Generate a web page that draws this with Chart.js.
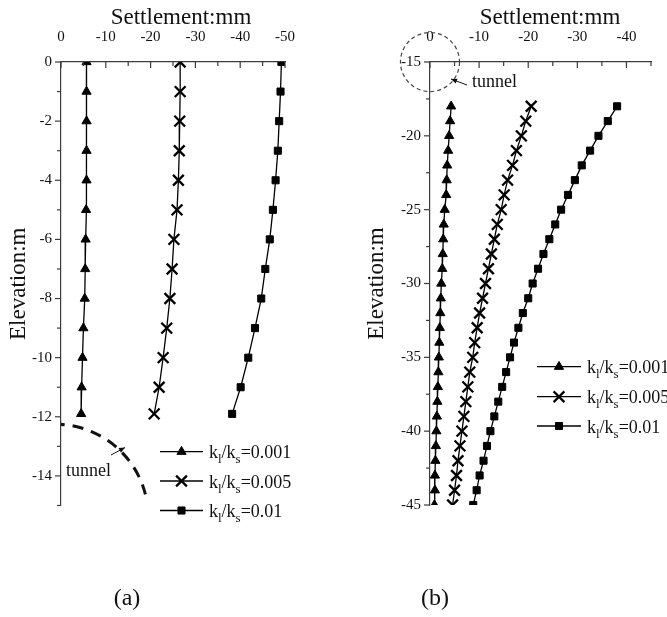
<!DOCTYPE html>
<html>
<head>
<meta charset="utf-8">
<title>Settlement profiles</title>
<script src="https://cdn.jsdelivr.net/npm/chart.js@4/dist/chart.umd.min.js"></script>
<style>
  html, body { margin: 0; padding: 0; background: #fff; }
  #wrap { position: relative; width: 667px; height: 617px; overflow: hidden; }
  canvas { position: absolute; top: 0; }
  #panelA { left: 0; }
  #panelB { left: 333px; }
</style>
</head>
<body>
<div id="wrap">
  <canvas id="panelA" width="333" height="617"></canvas>
  <canvas id="panelB" width="334" height="617"></canvas>
</div>
<script>
// ---------- data ----------
// ratio labels for the three stiffness cases
const ratioLabels = ['0.001', '0.005', '0.01'];

// (a) elevation (m) and settlement (mm)
const elevA = [0, -1, -2, -3, -4, -5, -6, -7, -8, -9, -10, -11, -11.9];
const settleA_001 = [-5.7, -5.7, -5.7, -5.7, -5.7, -5.6, -5.5, -5.4, -5.3, -5.0, -4.8, -4.6, -4.5];
const settleA_005 = [-26.6, -26.6, -26.5, -26.4, -26.2, -25.9, -25.2, -24.8, -24.3, -23.6, -22.8, -21.9, -20.8];
const settleA_01  = [-49.2, -49.0, -48.7, -48.4, -47.9, -47.3, -46.6, -45.6, -44.7, -43.3, -41.8, -40.1, -38.2];

// (b) elevation (m) and settlement (mm)
const elevB = [-18, -19, -20, -21, -22, -23, -24, -25, -26, -27, -28, -29, -30, -31,
               -32, -33, -34, -35, -36, -37, -38, -39, -40, -41, -42, -43, -44, -45];
const settleB_001 = [-4.3, -4.1, -3.9, -3.7, -3.5, -3.4, -3.3, -3.0, -2.8, -2.7, -2.6, -2.5, -2.3, -2.2,
                     -2.1, -2.0, -1.9, -1.8, -1.7, -1.6, -1.5, -1.4, -1.3, -1.2, -1.1, -1.0, -1.0, -0.9];
const settleB_005 = [-20.6, -19.5, -18.6, -17.6, -16.8, -15.8, -15.1, -14.5, -13.7, -13.1, -12.5, -11.9, -11.3, -10.7,
                     -10.1, -9.6, -9.1, -8.7, -8.1, -7.7, -7.3, -6.9, -6.5, -6.1, -5.7, -5.4, -5.0, -4.6];
const settleB_01  = [-38.1, -36.2, -34.3, -32.6, -30.9, -29.5, -28.1, -26.7, -25.5, -24.3, -23.1, -22.0, -20.9, -20.0,
                     -18.9, -18.0, -17.1, -16.3, -15.5, -14.7, -13.9, -13.1, -12.3, -11.6, -10.9, -10.1, -9.5, -8.8];

// labelled tick values
const xLabelsA = [0, -10, -20, -30, -40, -50];
const yLabelsA = [0, -2, -4, -6, -8, -10, -12, -14];
const xLabelsB = [0, -10, -20, -30, -40];
const yLabelsB = [-15, -20, -25, -30, -35, -40, -45];

// ---------- styling ----------
const FONT = "'Liberation Serif', 'Times New Roman', serif";
const AXIS = '#3c3c3c';
const INK = '#111';
const MARKERS = [
  { pointStyle: 'triangle', radius: 5.3, borderWidth: 1 },
  { pointStyle: 'crossRot', radius: 7.6, borderWidth: 2.3 },
  { pointStyle: 'rect', radius: 5, borderWidth: 1 }
];

function near(list, v) { return list.some(t => Math.abs(t - v) < 1e-6); }

function buildDatasets(elev, seriesList) {
  return seriesList.map((vals, i) => ({
    label: 'kl/ks=' + ratioLabels[i],
    data: vals.map((v, k) => ({ x: v, y: elev[k] })),
    showLine: true,
    tension: 0,
    borderColor: '#000',
    backgroundColor: '#000',
    borderWidth: 1.3,
    pointStyle: MARKERS[i].pointStyle,
    pointRadius: MARKERS[i].radius,
    pointHoverRadius: MARKERS[i].radius,
    pointBorderWidth: MARKERS[i].borderWidth,
    pointBackgroundColor: '#000',
    pointBorderColor: '#000',
    clip: 0
  }));
}

// marker for the legend keys, same shapes as the series points
function drawKeyMarker(ctx, m, x, y) {
  const H = Chart.helpers;
  if (H && H.drawPoint) {
    ctx.fillStyle = '#000'; ctx.strokeStyle = '#000'; ctx.lineWidth = m.borderWidth;
    H.drawPoint(ctx, { pointStyle: m.pointStyle, radius: m.radius, rotation: 0, borderWidth: m.borderWidth }, x, y);
    return;
  }
  ctx.fillStyle = '#000'; ctx.strokeStyle = '#000'; ctx.lineWidth = m.borderWidth;
  const r = m.radius;
  ctx.beginPath();
  if (m.pointStyle === 'triangle') {
    ctx.moveTo(x, y - r);
    ctx.lineTo(x + r * 0.866, y + r / 2);
    ctx.lineTo(x - r * 0.866, y + r / 2);
    ctx.closePath(); ctx.fill(); ctx.stroke();
  } else if (m.pointStyle === 'rect') {
    const s = r * Math.SQRT1_2;
    ctx.rect(x - s, y - s, 2 * s, 2 * s); ctx.fill(); ctx.stroke();
  } else {
    const s = r * Math.SQRT1_2;
    ctx.moveTo(x - s, y - s); ctx.lineTo(x + s, y + s);
    ctx.moveTo(x + s, y - s); ctx.lineTo(x - s, y + s); ctx.stroke();
  }
}

function drawArrow(ctx, x1, y1, x2, y2) {
  const ang = Math.atan2(y2 - y1, x2 - x1);
  ctx.beginPath(); ctx.moveTo(x1, y1); ctx.lineTo(x2, y2); ctx.stroke();
  ctx.beginPath();
  ctx.moveTo(x2, y2);
  ctx.lineTo(x2 - 6 * Math.cos(ang) + 2.6 * Math.sin(ang), y2 - 6 * Math.sin(ang) - 2.6 * Math.cos(ang));
  ctx.lineTo(x2 - 6 * Math.cos(ang) - 2.6 * Math.sin(ang), y2 - 6 * Math.sin(ang) + 2.6 * Math.cos(ang));
  ctx.closePath(); ctx.fill();
}

// k_l/k_s=value with subscripts; y is the text baseline
function drawRatio(ctx, x, y, value) {
  const parts = [['k', 18, 0], ['l', 13, 5], ['/k', 18, 0], ['s', 13, 5], ['=' + value, 18, 0]];
  ctx.textAlign = 'left'; ctx.textBaseline = 'alphabetic';
  parts.forEach(([t, size, dy]) => {
    ctx.font = size + 'px ' + FONT;
    ctx.fillText(t, x, y + dy);
    x += ctx.measureText(t).width;
  });
}

// axis ticks, top title, tunnel outline, legend and panel tag
function decor(p) {
  return {
    id: 'decor',
    afterDraw(chart) {
      const { ctx, chartArea: a, scales: { x, y } } = chart;
      ctx.save();

      // tick marks: x ticks point into the plot, y ticks point outward
      ctx.strokeStyle = AXIS; ctx.lineWidth = 1.2;
      x.ticks.forEach(t => {
        const px = x.getPixelForValue(t.value);
        const len = near(p.xLabels, t.value) ? 6 : 4;
        ctx.beginPath(); ctx.moveTo(px, a.top); ctx.lineTo(px, a.top + len); ctx.stroke();
      });
      y.ticks.forEach(t => {
        const py = y.getPixelForValue(t.value);
        const len = near(p.yLabels, t.value) ? 6 : 4;
        ctx.beginPath(); ctx.moveTo(a.left, py); ctx.lineTo(a.left - len, py); ctx.stroke();
      });

      // horizontal axis title
      ctx.fillStyle = INK;
      ctx.font = '23px ' + FONT;
      ctx.textAlign = 'center'; ctx.textBaseline = 'alphabetic';
      ctx.fillText('Settlement:mm', p.titleX, 24);

      // tunnel outline
      const t = p.tunnel;
      const cx = x.getPixelForValue(t.x), cy = y.getPixelForValue(t.y);
      const r = Math.abs(y.getPixelForValue(t.y + t.r) - cy);
      ctx.save();
      if (p.tunnelClip) {
        ctx.beginPath(); ctx.rect(a.left, a.top, a.right - a.left, a.bottom - a.top); ctx.clip();
      }
      ctx.strokeStyle = p.tunnelColor; ctx.lineWidth = p.tunnelWidth;
      ctx.setLineDash(p.tunnelDash);
      ctx.beginPath(); ctx.arc(cx, cy, r, p.tunnelArc[0], p.tunnelArc[1]); ctx.stroke();
      ctx.restore();

      // "tunnel" note with arrow
      ctx.fillStyle = INK; ctx.strokeStyle = INK; ctx.lineWidth = 1;
      ctx.font = '18px ' + FONT; ctx.textAlign = 'left'; ctx.textBaseline = 'alphabetic';
      ctx.fillText('tunnel', p.noteX, p.noteY);
      drawArrow(ctx, p.arrow[0], p.arrow[1], p.arrow[2], p.arrow[3]);

      // legend
      p.legendRows.forEach((ry, i) => {
        ctx.strokeStyle = '#000'; ctx.lineWidth = 1.3;
        ctx.beginPath(); ctx.moveTo(p.legendX0, ry); ctx.lineTo(p.legendX1, ry); ctx.stroke();
        drawKeyMarker(ctx, MARKERS[i], (p.legendX0 + p.legendX1) / 2, ry);
        ctx.fillStyle = INK;
        drawRatio(ctx, p.legendX1 + 6, ry + 6.5, ratioLabels[i]);
      });

      // panel tag
      ctx.fillStyle = INK; ctx.font = '24px ' + FONT;
      ctx.textAlign = 'center'; ctx.textBaseline = 'alphabetic';
      ctx.fillText(p.tag, p.tagX, 605);

      ctx.restore();
    }
  };
}

function makePanel(id, p) {
  return new Chart(document.getElementById(id), {
    type: 'scatter',
    data: { datasets: buildDatasets(p.elev, p.series) },
    options: {
      responsive: false,
      devicePixelRatio: 1,
      animation: false,
      events: [],
      layout: { padding: p.padding },
      plugins: { legend: { display: false }, tooltip: { enabled: false }, title: { display: false } },
      scales: {
        x: {
          type: 'linear', position: 'top', reverse: true,
          min: p.xMin, max: 0,
          afterFit: s => { s.height = 62; },
          grid: { display: false, drawTicks: false },
          border: { display: true, color: AXIS, width: 1.2 },
          ticks: {
            stepSize: 5, autoSkip: false, maxRotation: 0, padding: 16, color: INK,
            font: { family: FONT, size: 15 },
            callback: v => near(p.xLabels, v) ? String(Math.round(v)) : ''
          }
        },
        y: {
          type: 'linear', position: 'left',
          min: p.yMin, max: p.yMax,
          afterFit: s => { s.width = p.yAxisWidth; },
          grid: { display: false, drawTicks: false },
          border: { display: true, color: AXIS, width: 1.2 },
          ticks: {
            stepSize: p.yStep, autoSkip: false, padding: 9, color: INK,
            font: { family: FONT, size: 15 },
            callback: v => near(p.yLabels, v) ? String(Math.round(v)) : ''
          },
          title: {
            display: true, text: 'Elevation:m', color: INK,
            font: { family: FONT, size: 23 },
            padding: { top: p.yTitlePad, bottom: 0 }
          }
        }
      }
    },
    plugins: [decor(p)]
  });
}

makePanel('panelA', {
  elev: elevA, series: [settleA_001, settleA_005, settleA_01],
  xMin: -50, yMin: -15, yMax: 0, yStep: 1,
  xLabels: xLabelsA, yLabels: yLabelsA,
  padding: { left: 0, top: 0, right: 48, bottom: 111.5 },
  yAxisWidth: 61, yTitlePad: 5.4,
  titleX: 181,
  tunnel: { x: 1.3, y: -15.4, r: 3.15 }, tunnelClip: true,
  tunnelArc: [-2.2, -0.25], tunnelDash: [11, 8], tunnelWidth: 3, tunnelColor: '#111',
  noteX: 66, noteY: 476, arrow: [111, 455, 125, 447.5],
  legendRows: [451.7, 481, 510.5], legendX0: 160, legendX1: 203,
  tag: '(a)', tagX: 127
});

makePanel('panelB', {
  elev: elevB, series: [settleB_001, settleB_005, settleB_01],
  xMin: -45, yMin: -45, yMax: -15, yStep: 2.5,
  xLabels: xLabelsB, yLabels: yLabelsB,
  padding: { left: 0, top: 0, right: 10.3, bottom: 112 },
  yAxisWidth: 97, yTitlePad: 30.4,
  titleX: 217,
  tunnel: { x: 0, y: -15, r: 2 }, tunnelClip: false,
  tunnelArc: [0, Math.PI * 2], tunnelDash: [4, 3], tunnelWidth: 1.2, tunnelColor: '#444',
  noteX: 139, noteY: 87, arrow: [134, 85, 118, 79],
  legendRows: [366.7, 396.7, 426], legendX0: 204, legendX1: 248,
  tag: '(b)', tagX: 102
});
</script>
</body>
</html>
